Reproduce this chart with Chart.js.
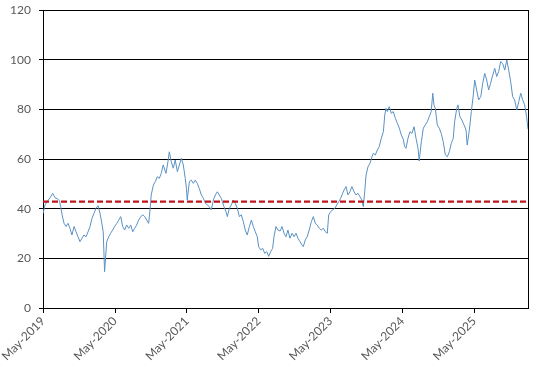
<!DOCTYPE html>
<html>
<head>
<meta charset="utf-8">
<style>
html,body{margin:0;padding:0;background:#fff;}
#wrap{width:536px;height:369px;}
</style>
<script src="https://cdn.jsdelivr.net/npm/chart.js@4/dist/chart.umd.min.js"></script>
</head>
<body>
<div id="wrap"><canvas id="c" width="536" height="369"></canvas></div>
<script>
// ---- data ----
const dates = [
"2019-05-01","2019-05-11","2019-05-28","2019-06-06","2019-06-19","2019-07-01","2019-07-13","2019-07-23","2019-07-30","2019-08-06",
"2019-08-16","2019-08-26","2019-09-05","2019-09-15","2019-09-25","2019-10-06","2019-10-16","2019-10-26","2019-11-05","2019-11-15",
"2019-11-25","2019-12-06","2019-12-16","2019-12-26","2020-01-05","2020-01-15","2020-01-25","2020-02-05","2020-02-15","2020-02-23",
"2020-03-02","2020-03-09","2020-03-20","2020-03-30","2020-04-09","2020-04-19","2020-04-29","2020-05-10","2020-05-20","2020-05-30",
"2020-06-09","2020-06-19","2020-06-29","2020-07-10","2020-07-20","2020-07-30","2020-08-09","2020-08-19","2020-08-29","2020-09-09",
"2020-09-19","2020-09-29","2020-10-09","2020-10-19","2020-10-26","2020-11-01","2020-11-12","2020-11-22","2020-12-02","2020-12-12",
"2020-12-22","2021-01-01","2021-01-15","2021-01-25","2021-02-01","2021-02-11","2021-02-21","2021-03-03","2021-03-14","2021-03-24",
"2021-04-03","2021-04-13","2021-04-23","2021-04-29","2021-05-03","2021-05-14","2021-05-24","2021-06-03","2021-06-13","2021-06-23",
"2021-07-03","2021-07-14","2021-07-24","2021-08-03","2021-08-13","2021-08-23","2021-09-02","2021-09-13","2021-09-23","2021-10-03",
"2021-10-13","2021-10-23","2021-11-06","2021-11-16","2021-11-23","2021-12-03","2021-12-13","2021-12-23","2022-01-02","2022-01-13",
"2022-01-23","2022-02-02","2022-02-12","2022-02-22","2022-03-04","2022-03-15","2022-03-25","2022-04-04","2022-04-14","2022-04-24",
"2022-05-01","2022-05-11","2022-05-22","2022-06-01","2022-06-11","2022-06-21","2022-07-01","2022-07-11","2022-07-18","2022-07-28",
"2022-08-07","2022-08-18","2022-08-28","2022-09-07","2022-09-17","2022-09-27","2022-10-07","2022-10-18","2022-10-28","2022-11-07",
"2022-11-17","2022-11-27","2022-12-07","2022-12-14","2022-12-24","2023-01-03","2023-01-13","2023-01-24","2023-02-03","2023-02-13",
"2023-02-23","2023-03-05","2023-03-15","2023-03-26","2023-04-05","2023-04-15","2023-04-22","2023-05-02","2023-05-12","2023-05-23",
"2023-06-02","2023-06-12","2023-06-22","2023-07-02","2023-07-09","2023-07-19","2023-07-29","2023-08-08","2023-08-18","2023-08-29",
"2023-09-08","2023-09-18","2023-09-28","2023-10-08","2023-10-15","2023-10-22","2023-10-29","2023-11-08","2023-11-18","2023-11-28",
"2023-12-05","2023-12-15","2023-12-25","2024-01-04","2024-01-14","2024-01-25","2024-02-01","2024-02-07","2024-02-14","2024-02-24",
"2024-03-05","2024-03-15","2024-03-26","2024-04-05","2024-04-15","2024-04-25","2024-05-05","2024-05-12","2024-05-19","2024-05-29",
"2024-06-08","2024-06-18","2024-06-29","2024-07-09","2024-07-19","2024-07-25","2024-08-05","2024-08-15","2024-08-25","2024-09-04",
"2024-09-14","2024-09-24","2024-10-02","2024-10-08","2024-10-15","2024-10-25","2024-11-04","2024-11-14","2024-11-24","2024-12-05",
"2024-12-15","2024-12-25","2025-01-04","2025-01-14","2025-01-21","2025-02-01","2025-02-07","2025-02-17","2025-02-27","2025-03-10",
"2025-03-20","2025-03-26","2025-04-06","2025-04-16","2025-04-26","2025-05-03","2025-05-13","2025-05-23","2025-06-03","2025-06-13",
"2025-06-23","2025-07-03","2025-07-13","2025-07-23","2025-08-03","2025-08-13","2025-08-23","2025-09-02","2025-09-12","2025-09-22",
"2025-10-03","2025-10-13","2025-10-23","2025-11-02","2025-11-12","2025-11-22","2025-12-03","2025-12-13","2025-12-23","2026-01-02",
"2026-01-12","2026-01-22","2026-01-29"
];
const values = [
38.0,41.5,43.5,44.4,46.2,44.4,44.0,43.3,40.8,37.5,
34.1,32.8,34.1,32.1,29.4,32.8,30.7,28.7,26.7,28.1,
29.4,28.7,30.7,32.8,36.1,38.1,40.1,41.2,38.0,34.6,
30.7,14.6,26.7,28.7,30.1,31.4,32.8,34.1,35.4,36.8,
32.8,31.4,33.4,32.1,33.4,30.7,32.1,33.4,35.4,36.8,
37.5,36.8,35.4,34.1,39.5,45.5,49.5,50.9,52.9,52.2,
54.2,57.6,54.2,58.9,62.9,58.9,56.3,59.6,54.9,57.6,
60.3,57.6,52.2,48.2,43.5,50.9,51.5,50.2,51.5,50.2,
48.2,45.5,44.2,42.2,41.5,40.8,39.5,43.5,45.5,46.8,
45.5,44.2,40.8,38.8,36.8,40.1,41.5,43.5,42.2,40.1,
36.8,37.5,34.8,31.4,29.4,32.8,35.4,32.8,30.7,28.7,
24.7,23.4,24.0,22.0,22.7,20.8,22.7,24.0,28.7,32.8,
31.4,31.0,32.8,30.1,28.7,31.4,28.1,30.1,28.7,30.1,
28.1,26.7,25.4,24.7,27.4,28.7,31.4,34.8,36.8,34.1,
33.4,32.1,31.4,32.1,30.7,30.1,37.5,38.8,39.5,40.1,
41.5,42.8,44.2,46.2,47.5,48.9,45.5,46.8,48.9,46.8,
45.5,46.2,44.8,43.5,40.8,46.8,53.6,56.9,58.3,60.9,
62.3,61.6,63.6,65.0,68.3,71.0,77.7,80.4,79.1,81.1,
78.4,79.1,76.4,74.4,72.4,69.7,68.0,65.0,64.3,68.3,
71.0,70.3,73.0,68.3,64.3,59.2,67.0,72.4,73.7,75.0,
77.0,79.1,86.5,81.8,80.4,73.7,72.4,70.3,67.0,61.6,
60.9,62.9,66.3,68.3,75.0,80.4,81.8,77.0,75.7,73.7,
71.7,65.6,71.7,79.1,85.8,91.8,87.8,83.8,85.1,90.5,
94.5,91.8,87.8,90.5,93.8,96.5,93.2,95.2,99.2,98.5,
95.8,99.9,95.8,91.1,85.1,83.8,79.7,83.1,86.5,83.8,
81.8,77.0,72.0
];
const averageLevel = 42.8;
const tickYears = [2019,2020,2021,2022,2023,2024,2025];
const tickMonthIndex = 4; // May
const monthNames = ["Jan","Feb","Mar","Apr","May","Jun","Jul","Aug","Sep","Oct","Nov","Dec"];
const yMin = 0, yMax = 120, yStep = 20;

// ---- build ----
const seriesPts = dates.map((d,i)=>({x:Date.parse(d), y:values[i]}));
const xMin = seriesPts[0].x, xMax = seriesPts[seriesPts.length-1].x;
const avgPts = [{x:xMin,y:averageLevel},{x:xMax,y:averageLevel}];

const textColor = '#595959';
const fontSpec = {family:'Lato', size:12};

const framePlugin = {
  id:'frame',
  afterDraw(chart){
    const a = chart.chartArea, ctx = chart.ctx;
    ctx.save();
    ctx.strokeStyle = '#000';
    ctx.lineWidth = 1;
    ctx.beginPath();
    ctx.moveTo(Math.round(a.right)+0.5, a.top);
    ctx.lineTo(Math.round(a.right)+0.5, a.bottom);
    ctx.stroke();
    ctx.restore();
  }
};

new Chart(document.getElementById('c'), {
  type:'line',
  data:{
    datasets:[
      {data:avgPts, borderColor:'#c0141c', borderWidth:2.2, borderDash:[6,3], pointRadius:0, order:0, fill:false},
      {data:seriesPts, borderColor:'#5a91c3', borderWidth:1, pointRadius:0, tension:0, order:1, fill:false}
    ]
  },
  options:{
    responsive:false,
    animation:false,
    devicePixelRatio:1,
    layout:{padding:{top:10,right:8,left:0,bottom:0}},
    plugins:{legend:{display:false}, tooltip:{enabled:false}},
    scales:{
      x:{
        type:'linear',
        min:xMin, max:xMax,
        afterBuildTicks(scale){
          scale.ticks = tickYears.map(y=>({value:Date.UTC(y,tickMonthIndex,1)}));
        },
        afterFit(scale){ scale.height = 61; },
        ticks:{
          autoSkip:false, maxRotation:45, minRotation:45, padding:1,
          color:textColor, font:fontSpec,
          callback(v){ const d=new Date(v); return monthNames[d.getUTCMonth()]+'-'+d.getUTCFullYear(); }
        },
        grid:{drawOnChartArea:false, drawTicks:true, tickLength:5, color:'#000', lineWidth:1},
        border:{display:true, color:'#000', width:1}
      },
      y:{
        min:yMin, max:yMax,
        afterFit(scale){ scale.width = 43; scale.paddingTop = 0; scale.paddingBottom = 0; },
        ticks:{stepSize:yStep, padding:8, color:textColor, font:fontSpec},
        grid:{color:'#000', lineWidth:1, tickLength:4, drawTicks:true},
        border:{display:true, color:'#000', width:1}
      }
    }
  },
  plugins:[framePlugin]
});
</script>
</body>
</html>
